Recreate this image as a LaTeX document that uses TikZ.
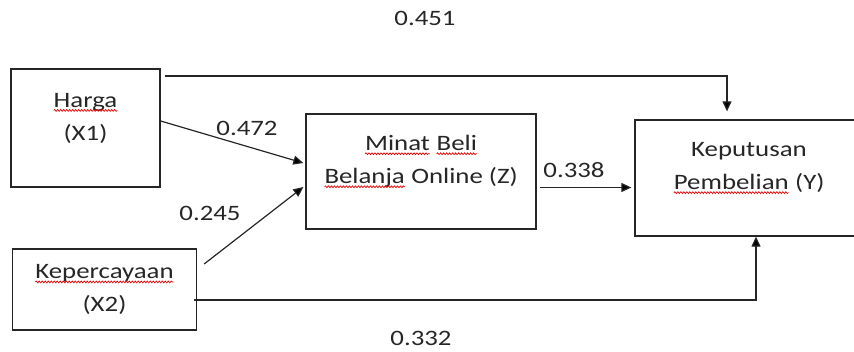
\documentclass[tikz,border=0pt]{standalone}
\usepackage{fontspec}
\setmainfont{Carlito}[FakeStretch=1.22]
\usetikzlibrary{arrows.meta,decorations.pathmorphing}

% word with a red wavy underline
\newcommand{\wavy}[1]{\tikz[baseline=(wd.base)]{%
  \node[inner sep=0pt,outer sep=0pt,draw=none,minimum size=0pt] (wd) {#1};%
  \draw[red!90!black,line width=0.7pt,decorate,
        decoration={snake,amplitude=0.9pt,segment length=3pt}]
     ([yshift=-3.4pt]wd.base west) -- ([yshift=-3.4pt]wd.base east);}}

\tikzset{
  box/.style={draw=black!85,line width=1.3pt,rectangle,inner sep=0pt},
  txt/.style={align=center,text=black!85,font=\fontsize{22}{33}\selectfont,inner sep=0pt},
  coef/.style={text=black!85,font=\fontsize{22}{26}\selectfont,inner sep=0pt},
  arr/.style={draw=black!85,line width=1.2pt,-{Triangle[length=10pt,width=9pt]}}
}

\begin{document}
\begin{tikzpicture}[x=1pt,y=-1pt]
\clip (0,0) rectangle (854,351);

% boxes
\node[box,minimum width=149pt,minimum height=118pt] (h) at (85.5,128) {};
\node[box,minimum width=184pt,minimum height=81pt] (k) at (104.5,289.5) {};
\node[box,minimum width=230pt,minimum height=115pt] (m) at (421,171.5) {};
\node[box,minimum width=228pt,minimum height=116pt] (y) at (749,178) {};

% box texts
\node[txt] (ht) at ([yshift=10pt]h.center) {\wavy{Harga}\\(X1)};
\node[txt] (kt) at ([yshift=0pt]k.center) {\wavy{Kepercayaan}\\(X2)};
\node[txt] (mt) at ([yshift=10pt]m.center) {\wavy{Minat} \wavy{Beli}\\\wavy{Belanja} Online (Z)};
\node[txt] (yt) at ([yshift=10pt]y.center) {Keputusan\\\wavy{Pembelian} (Y)};

% connectors
\coordinate (tc) at (727,76);
\coordinate (bc) at (756,300);
\draw[arr,shorten >=8pt] ([xshift=4pt]h.east |- tc) -- (tc) -- (tc |- y.north);
\draw[arr] ([xshift=-3pt]k.east |- bc) -- (bc) -- (bc |- y.south);
\draw[arr] ([yshift=7pt]h.east) -- ([xshift=-2pt,yshift=8.5pt]m.west);
\draw[arr] ([xshift=7pt,yshift=25.5pt]k.east) -- ([xshift=-2pt,yshift=-15.5pt]m.west);
\draw[arr] ([xshift=3pt,yshift=-16pt]m.east) -- ([xshift=-3pt,yshift=-9.5pt]y.west);

% path coefficients
\node[coef] (c1) at (425,18) {0.451};
\node[coef] (c2) at (247,128) {0.472};
\node[coef] (c3) at (210,213) {0.245};
\node[coef] (c4) at (574,170) {0.338};
\node[coef] (c5) at (421,338) {0.332};
\end{tikzpicture}
\end{document}
